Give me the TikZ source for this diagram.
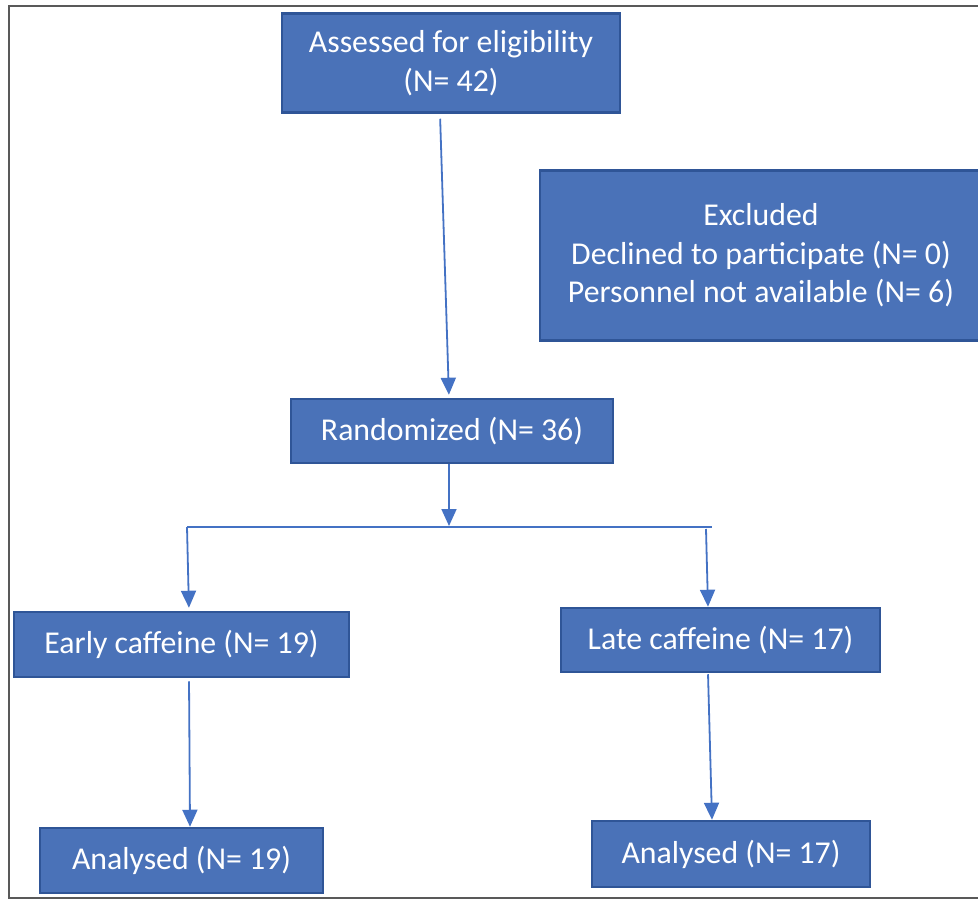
\documentclass[tikz,border=0pt]{standalone}
\usepackage{fontspec}
\setmainfont{Carlito}
\usetikzlibrary{arrows.meta}
\definecolor{boxfill}{HTML}{4A72B8}
\definecolor{boxline}{HTML}{2F5597}
\definecolor{arrcol}{HTML}{4472C4}
\definecolor{framecol}{HTML}{595959}
\begin{document}
\begin{tikzpicture}[x=1pt,y=-1pt,
  flowbox/.style={draw=boxline,fill=boxfill,line width=2.5pt,text=white,
    font=\fontsize{31.8}{38.5}\selectfont,align=center,inner sep=0pt,
    minimum width=#1},
  arr/.style={draw=arrcol,line width=1.8pt,-{Triangle[width=15pt,length=17pt]}},
  thinline/.style={draw=arrcol,line width=1.5pt}]
\useasboundingbox (0,0) rectangle (978,899);
\draw[framecol,line width=1.2pt] (9,6) rectangle (990,898);
\node[flowbox=338pt,minimum height=99pt] (a) at (451,63) {Assessed for eligibility\\(N= 42)};
\node[flowbox=442pt,minimum height=170pt] (ex) at (761,255.5) {Excluded\\Declined to participate (N= 0)\\Personnel not available (N= 6)};
\node[flowbox=322pt,minimum height=64pt] (r) at (452,431) {Randomized (N= 36)};
\node[flowbox=335pt,minimum height=65pt] (e) at (181.5,644.5) {Early caffeine (N= 19)};
\node[flowbox=319pt,minimum height=64pt] (l) at (720.5,640) {Late caffeine (N= 17)};
\node[flowbox=283pt,minimum height=65pt] (ae) at (181.5,860.5) {Analysed (N= 19)};
\node[flowbox=278pt,minimum height=66pt] (al) at (731,854) {Analysed (N= 17)};
\coordinate (spl) at (187,527);
\coordinate (spm) at (449,527);
\coordinate (spr) at (712,527);
\coordinate (spr2) at (706,529);
\draw[arr,shorten <=5pt,shorten >=3pt] ([xshift=-11pt]a.south) -- ([xshift=-3pt]r.north);
\draw[arr,shorten >=1pt] ([xshift=-3pt]r.south) -- (spm);
\draw[thinline] (spl) -- (spr);
\draw[arr,shorten >=3pt] (spl) -- ([xshift=7.5pt]e.north);
\draw[arr] (spr2) -- ([xshift=-12.5pt]l.north);
\draw[arr,shorten <=3pt] ([xshift=7.5pt]e.south) -- ([xshift=8.5pt]ae.north);
\draw[arr,shorten <=1pt] ([xshift=-12.5pt]l.south) -- ([xshift=-19pt]al.north);
\end{tikzpicture}
\end{document}
